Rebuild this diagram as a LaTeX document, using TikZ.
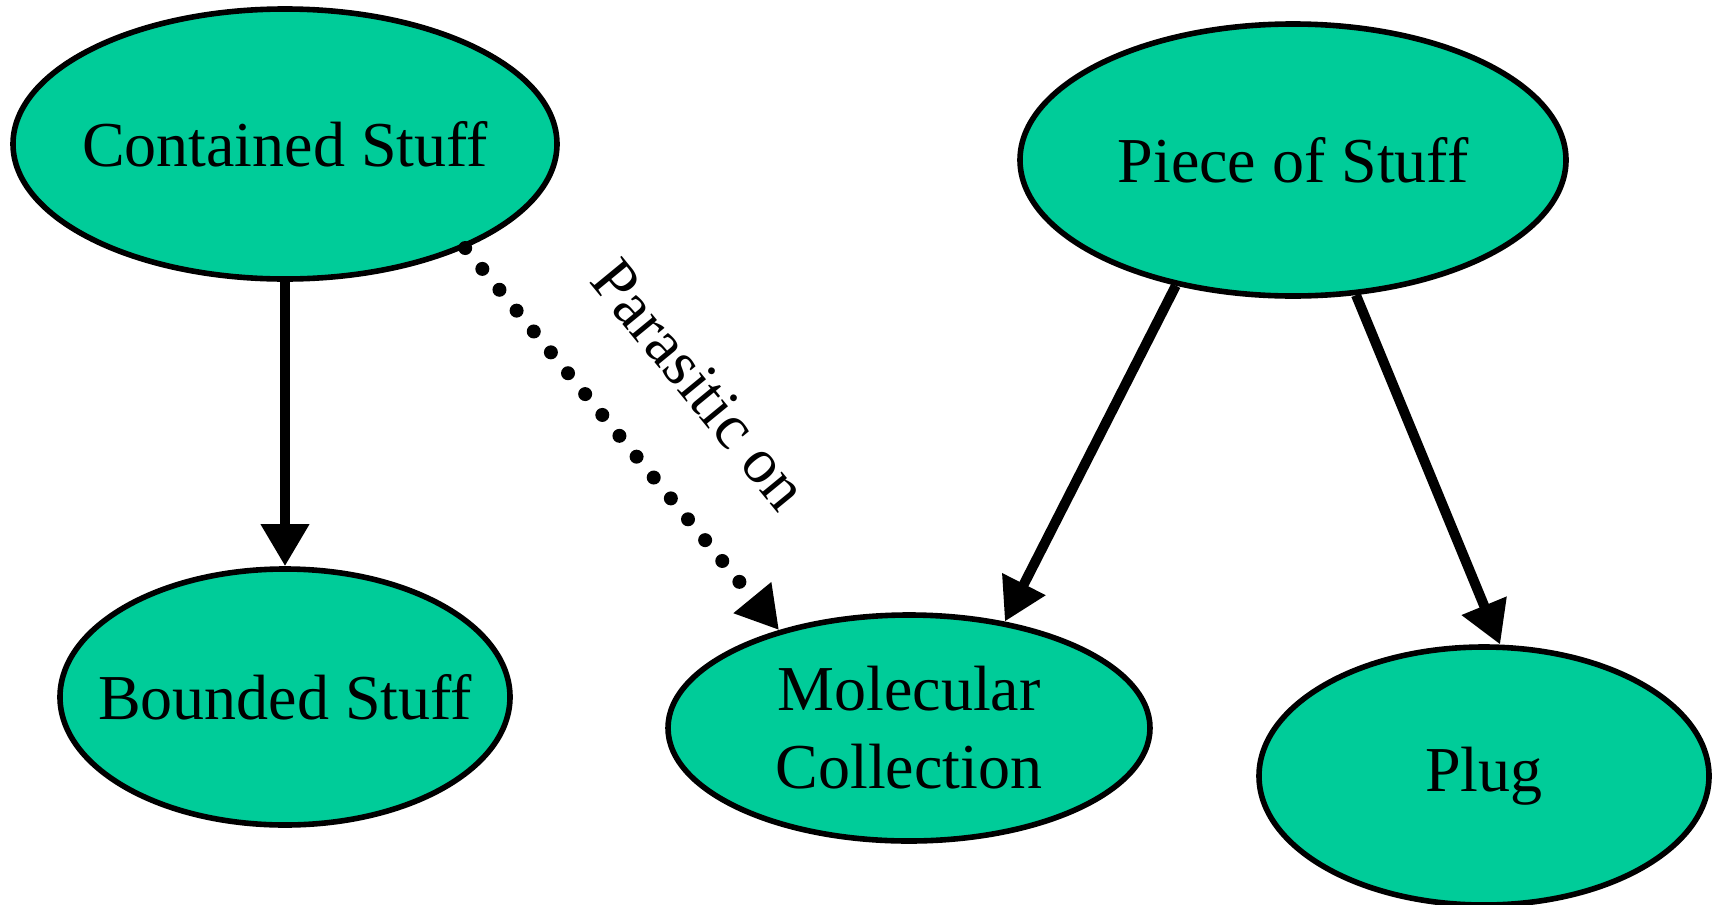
\documentclass[tikz,border=0pt]{standalone}
\usepackage{fontspec}
\setmainfont{Liberation Serif}
\usetikzlibrary{shapes,arrows.meta}
\definecolor{stuffgreen}{RGB}{0,204,153}

\begin{document}
\begin{tikzpicture}[x=0.5pt,y=-0.5pt,
    stuff/.style={ellipse, draw=black, line width=2.8pt, fill=stuffgreen, inner xsep=-20pt, inner ysep=0pt,
        font=\fontsize{32}{39}\selectfont, align=center},
    isa/.style={line width=5pt, -{Triangle[length=21pt,width=23pt]}},
    parasite/.style={line width=7pt, line cap=round, dash pattern=on 0pt off 13.5pt,
        -{Triangle[length=21pt,width=23pt]}}]
    \useasboundingbox (0,0) rectangle (1719,905);

    % kinds of stuff
    \node[stuff, minimum width=272pt, minimum height=135pt] (contained) at (285,144) {Contained Stuff};
    \node[stuff, minimum width=225pt, minimum height=128pt] (bounded) at (285,697) {Bounded Stuff};
    \node[stuff, minimum width=241pt, minimum height=113pt] (molecular) at (909,728) {Molecular\\Collection};
    \node[stuff, minimum width=273pt, minimum height=136pt] (piece) at (1293,160) {Piece of Stuff};
    \node[stuff, minimum width=225pt, minimum height=129pt] (plug) at (1484,776) {Plug};

    % links
    \draw[isa] (contained.-90) -- (bounded.90);
    \draw[parasite] (contained.-30) -- node[sloped, pos=0.515, above=33pt, inner sep=0pt,
        font=\fontsize{32}{39}\selectfont] {Parasitic on} (molecular.143);
    \draw[isa] (piece.227) -- (molecular.48);
    \draw[isa] (piece.-65) -- (plug.83);
\end{tikzpicture}
\end{document}
